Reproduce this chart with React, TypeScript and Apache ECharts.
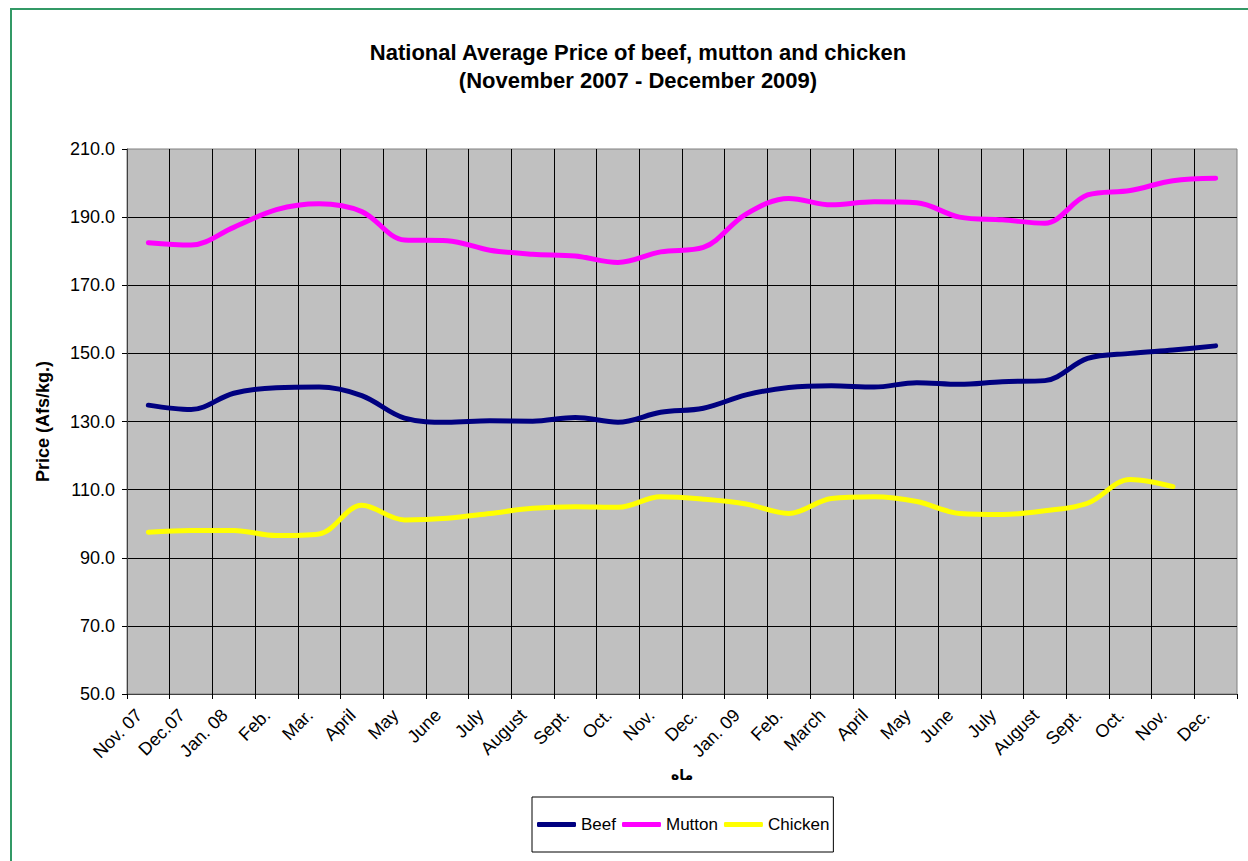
import React, { useEffect, useRef } from "react";
import * as echarts from "echarts";

const categories = [
  "Nov. 07", "Dec.07", "Jan. 08", "Feb.", "Mar.", "April", "May", "June", "July", "August", "Sept.", "Oct.", "Nov.",
  "Dec.", "Jan. 09", "Feb.", "March", "April", "May", "June", "July", "August", "Sept.", "Oct.", "Nov.", "Dec.",
];

const beef = [
  134.8, 133.5, 138.3, 139.9, 140.1, 137.6, 131.0, 129.8, 130.2, 130.1, 131.2, 129.8, 132.7,
  133.9, 137.8, 140.0, 140.5, 140.1, 141.4, 140.9, 141.7, 142.0, 148.5, 150.0, 151.0, 152.2,
];

const mutton = [
  182.5, 181.8, 187.0, 192.2, 193.9, 191.6, 183.3, 183.1, 180.3, 179.1, 178.6, 176.7, 179.8,
  181.1, 190.9, 195.5, 193.6, 194.5, 194.2, 190.0, 189.2, 188.2, 196.5, 197.8, 200.7, 201.4,
];

const chicken: (number | null)[] = [
  97.5, 98.0, 98.0, 96.5, 97.0, 105.4, 101.1, 101.6, 103.0, 104.5, 105.0, 104.8, 107.9,
  107.2, 105.8, 103.0, 107.4, 107.9, 106.5, 103.0, 102.7, 103.8, 106.0, 113.0, 110.9, null,
];

const titleLines = ["National Average Price of beef, mutton and chicken", "(November 2007 - December 2009)"];
const seriesNames = ["Beef", "Mutton", "Chicken"];
const seriesColors = ["#000080", "#FF00FF", "#FFFF00"];

const FONT = "'Liberation Sans', Arial, Helvetica, sans-serif";

export default function App() {
  const ref = useRef<HTMLDivElement>(null);

  useEffect(() => {
    if (!ref.current) return;
    const chart = echarts.init(ref.current, undefined, { renderer: "svg" });
    const dataSets = [beef, mutton, chicken];
    chart.setOption({
      animation: false,
      backgroundColor: "#ffffff",
      textStyle: { fontFamily: FONT },
      graphic: [
        {
          type: "rect",
          shape: { x: 11, y: 9, width: 1300, height: 900 },
          style: { fill: "none", stroke: "#339966", lineWidth: 2 },
          silent: true,
        },
        {
          type: "text",
          x: 638,
          y: 52,
          style: {
            text: titleLines[0],
            font: `bold 22px ${FONT}`,
            fill: "#000",
            textAlign: "center",
            textVerticalAlign: "middle",
            align: "center",
            verticalAlign: "middle",
          },
        },
        {
          type: "text",
          x: 638,
          y: 80,
          style: {
            text: titleLines[1],
            font: `bold 22px ${FONT}`,
            fill: "#000",
            textAlign: "center",
            textVerticalAlign: "middle",
            align: "center",
            verticalAlign: "middle",
          },
        },
      ],
      grid: {
        left: 127,
        right: 11,
        top: 149,
        bottom: 167,
        show: true,
        backgroundColor: "#C0C0C0",
        borderColor: "#808080",
        borderWidth: 1,
      },
      legend: {
        left: 532,
        top: 797,
        orient: "horizontal",
        padding: [19, 4, 19, 5],
        borderColor: "#000",
        borderWidth: 1,
        backgroundColor: "#fff",
        itemGap: 6,
        itemWidth: 39,
        itemHeight: 5,
        icon: "roundRect",
        textStyle: { fontSize: 17, color: "#000", fontFamily: FONT },
        data: seriesNames,
      },
      xAxis: {
        type: "category",
        data: categories,
        boundaryGap: true,
        name: "ماه",
        nameLocation: "middle",
        nameGap: 72,
        nameTextStyle: { fontSize: 14, fontWeight: "bold", color: "#000", fontFamily: "'DejaVu Sans', " + FONT },
        axisLine: { show: true, lineStyle: { color: "#404040", width: 1 } },
        axisTick: { show: true, length: 5, lineStyle: { color: "#000" } },
        axisLabel: {
          interval: 0,
          rotate: 45,
          fontSize: 18,
          color: "#000",
          margin: 9,
          padding: [0, 13, 0, 0],
          fontFamily: FONT,
        },
        splitLine: { show: true, showMinLine: false, showMaxLine: false, lineStyle: { color: "#000", width: 1 } },
      },
      yAxis: {
        type: "value",
        min: 50,
        max: 210,
        interval: 20,
        name: "Price (Afs/kg.)",
        nameLocation: "middle",
        nameGap: 75,
        nameTextStyle: { fontSize: 18, fontWeight: "bold", color: "#000", fontFamily: FONT },
        axisLine: { show: true, lineStyle: { color: "#404040", width: 1 } },
        axisTick: { show: true, length: 5, lineStyle: { color: "#000" } },
        axisLabel: {
          fontSize: 18,
          color: "#000",
          margin: 12,
          fontFamily: FONT,
          formatter: (v: number) => v.toFixed(1),
        },
        splitLine: { show: true, showMaxLine: false, lineStyle: { color: "#000", width: 1 } },
      },
      series: dataSets.map((d, i) => ({
        name: seriesNames[i],
        type: "line",
        data: d,
        smooth: 0.35,
        symbol: "none",
        connectNulls: false,
        lineStyle: { color: seriesColors[i], width: 5, cap: "round", join: "round" },
        itemStyle: { color: seriesColors[i] },
      })),
    });
    return () => chart.dispose();
  }, []);

  return (
    <div
      ref={ref}
      style={{ position: "absolute", left: 0, top: 0, width: 1248, height: 861 }}
    />
  );
}
